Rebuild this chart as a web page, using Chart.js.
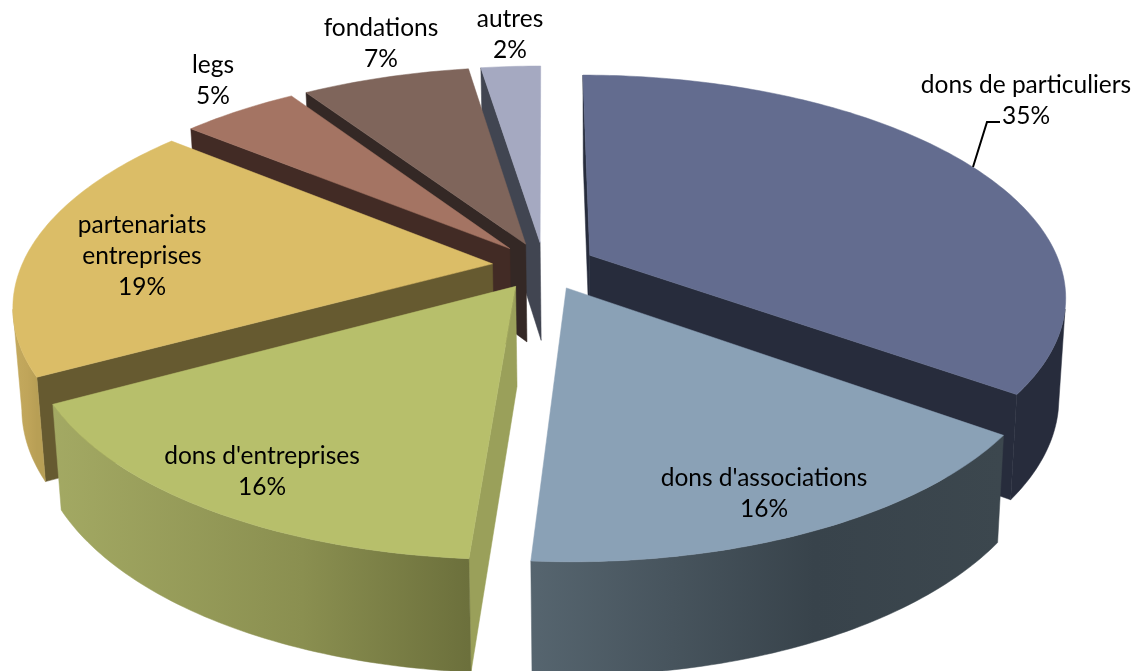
<!DOCTYPE html>
<html><head><meta charset="utf-8">
<style>html,body{margin:0;padding:0;background:#fff;overflow:hidden}#w{width:1137px;height:671px;position:relative}</style>
<script src="https://cdn.jsdelivr.net/npm/chart.js@4"></script>
</head><body><div id="w"><canvas id="c"></canvas></div>
<script>
const categories = ["dons de particuliers","dons d'associations","dons d'entreprises","partenariats entreprises","legs","fondations","autres"];
const shares = [35,16.1,15.9,18.95,4.77,6.85,2.43];
const topColors = ["#636c8f","#8aa1b6","#b7bf6b","#dbbd67","#a47463","#7f655b","#a5a9c1"];
const faceColors = ["#272c3c","#333d45","#9aa05a","#665a30","#422b25","#342825","#414551"];
const rimLeft = ["#272c3c","#56656f","#a3a963","#c4aa5e","#6e4c40","#54433b","#6d7080"];
const rimMid = ["#272c3c","#38434b","#8a8f50","#c0a55a","#643f35","#4c3d36","#656878"];
const rimRight = ["#272c3c","#3c474e","#6c703c","#b89f55","#5a3d33","#463832","#5d6070"];
const labelLines = [["dons de particuliers"],["dons d'associations"],["dons d'entreprises"],["partenariats","entreprises"],["legs"],["fondations"],["autres"]];
const labelCenterX = [1026,764,262,142,213,381,510];
const labelTopY = [85,478,456,225,65,28,19];
const paintOrder = [6,5,4,3,0,2,1];

// projection of the pie plane (unit radius) on the screen
const view = {cx:544, cy:266, A:471, B:216, k:0.179, D:98.8, shrink:0.985, lowShift:1, grow:1.05};
function proj(u,v,low){
  const w = 1 - view.k*v;
  return low
    ? [view.cx + view.lowShift + view.shrink*view.A*u/w, view.cy + view.D + view.grow*view.B*v/w]
    : [view.cx + view.A*u/w, view.cy + view.B*v/w];
}
function poly(ctx,pts){ctx.beginPath();pts.forEach((p,i)=>i?ctx.lineTo(p[0],p[1]):ctx.moveTo(p[0],p[1]));ctx.closePath();}
function fillPoly(ctx,pts,fill){poly(ctx,pts);ctx.fillStyle=fill;ctx.strokeStyle=fill;ctx.lineWidth=0.5;ctx.fill();ctx.stroke();}

const pie3d = {
  id:'pie3d',
  beforeDatasetDraw(chart,args){
    const ctx = chart.ctx, arcs = chart.getDatasetMeta(args.index).data;
    paintOrder.forEach(i=>{
      const el = arcs[i];
      const {startAngle:a0,endAngle:a1,outerRadius:R} = el.getProps(['startAngle','endAngle','outerRadius'],true);
      const off = el.options.offset/R, mid=(a0+a1)/2;
      const ou = off*Math.cos(mid), ov = off*Math.sin(mid);
      const n = Math.max(8,Math.ceil((a1-a0)*60));
      const rimU=[],rimL=[],wallU=[],wallL=[];
      for(let s=0;s<=n;s++){
        const t=a0+(a1-a0)*s/n, u=ou+Math.cos(t), v=ov+Math.sin(t);
        const pu=proj(u,v,false), pl=proj(u,v,true);
        rimU.push(pu); rimL.push(pl);
        if(v>view.k){wallU.push(pu);wallL.push(pl);}
      }
      const apexU=proj(ou,ov,false), apexL=proj(ou,ov,true);
      // radial cut faces, when they look at the viewer
      if(rimU[0][0]<apexU[0]) fillPoly(ctx,[apexU,rimU[0],rimL[0],apexL],faceColors[i]);
      if(rimU[n][0]>apexU[0]+20) fillPoly(ctx,[apexU,rimU[n],rimL[n],apexL],faceColors[i]);
      // outer wall (front-facing part only)
      if(wallU.length>1){
        const xs=wallU.map(p=>p[0]);
        const g=ctx.createLinearGradient(Math.min(...xs),0,Math.max(...xs),0);
        g.addColorStop(0,rimLeft[i]);g.addColorStop(0.6,rimMid[i]);g.addColorStop(1,rimRight[i]);
        fillPoly(ctx,wallU.concat(wallL.slice().reverse()),g);
      }
      // top
      fillPoly(ctx,[apexU].concat(rimU),topColors[i]);
    });
    return false;
  },
  afterDatasetsDraw(chart){
    const ctx=chart.ctx;
    ctx.save();
    ctx.strokeStyle='#000';ctx.lineWidth=2;
    ctx.beginPath();ctx.moveTo(973,167);ctx.lineTo(987,122);ctx.lineTo(1000,122);ctx.stroke();
    ctx.fillStyle='#000';ctx.font='24.5px Lato';ctx.textAlign='center';ctx.textBaseline='middle';
    shares.forEach((v,i)=>{
      labelLines[i].concat([Math.round(v)+'%']).forEach((t,j)=>ctx.fillText(t,labelCenterX[i],labelTopY[i]+j*31));
    });
    ctx.restore();
  }
};

new Chart(document.getElementById('c'),{
  type:'pie',
  data:{labels:categories,datasets:[{data:shares,backgroundColor:topColors,borderWidth:0,offset:35}]},
  options:{responsive:true,maintainAspectRatio:false,animation:false,
    layout:{padding:0},
    plugins:{legend:{display:false},tooltip:{enabled:false}}},
  plugins:[pie3d]
});
</script></body></html>
